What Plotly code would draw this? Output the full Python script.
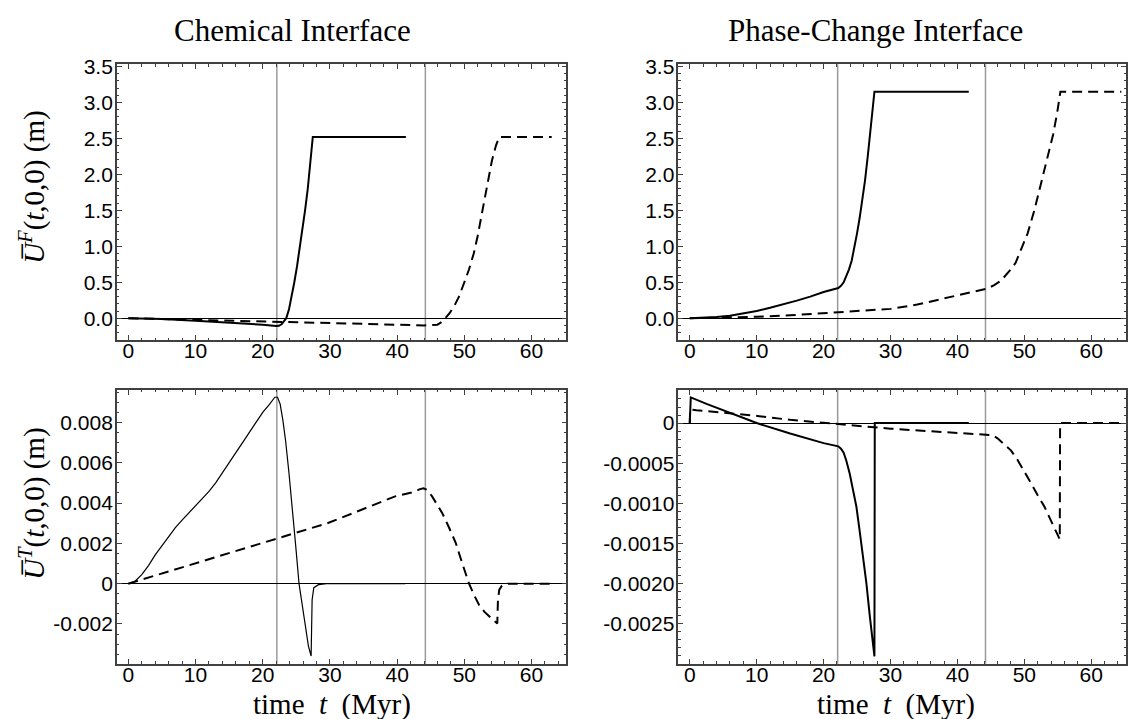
import plotly.graph_objects as go

# ---------------- data ----------------
x_ticks = [0, 10, 20, 30, 40, 50, 60]
vlines_t = [22.1, 44.2]

# Chemical interface, U^F
chemF_solid_t = [0, 5, 10, 15, 20, 22.0, 22.4, 22.8, 23.2, 23.5, 23.9, 24.3, 24.7, 25.1, 25.5, 25.9,
                 26.3, 26.7, 27.1, 27.45, 41.3]
chemF_solid_y = [0, -0.012, -0.035, -0.06, -0.09, -0.108, -0.105, -0.085, -0.04, 0.0, 0.12, 0.3, 0.5,
                 0.72, 0.96, 1.22, 1.5, 1.8, 2.15, 2.52, 2.52]
chemF_dash_t = [0, 10, 22, 30, 40, 44, 45, 46, 46.7, 47.2, 47.8, 48.5, 49.2, 50.0, 50.7, 51.4, 52.0,
                52.6, 53.3, 54.1, 54.7, 55.2, 63.0]
chemF_dash_y = [0, -0.02, -0.048, -0.065, -0.09, -0.1, -0.1, -0.09, -0.05, 0.0, 0.07, 0.17, 0.3, 0.5,
                0.68, 0.9, 1.15, 1.45, 1.8, 2.19, 2.4, 2.52, 2.52]

# Phase-change interface, U^F
phaseF_solid_t = [0, 2, 4, 6, 8, 10, 12, 14, 16, 18, 20, 22.2, 22.6, 23.0, 23.4, 23.8, 24.2, 24.6,
                  25.0, 25.4, 25.8, 26.2, 26.6, 27.0, 27.3, 27.6, 41.7]
phaseF_solid_y = [0, 0.004, 0.016, 0.036, 0.065, 0.1, 0.145, 0.19, 0.245, 0.3, 0.365, 0.42, 0.45, 0.5,
                  0.58, 0.68, 0.8, 0.98, 1.18, 1.4, 1.65, 1.92, 2.25, 2.6, 2.88, 3.15, 3.15]
phaseF_dash_t = [0, 5, 10, 15, 20, 22.2, 26, 30, 34, 38, 40, 42, 44.4, 45.5, 46.5, 47.3, 48.0, 48.7,
                 49.5, 50.5, 51.5, 52.5, 53.4, 54.3, 54.9, 55.4, 64.5]
phaseF_dash_y = [0, 0.006, 0.02, 0.04, 0.068, 0.08, 0.105, 0.13, 0.19, 0.27, 0.32, 0.36, 0.41, 0.46,
                 0.52, 0.6, 0.68, 0.77, 0.95, 1.18, 1.5, 1.86, 2.2, 2.55, 2.85, 3.15, 3.15]

# Chemical interface, U^T
chemT_solid_t = [0, 1, 2, 3, 4, 5, 6, 7, 8, 9, 10, 11, 12, 13, 14, 15, 16, 17, 18, 19, 20, 21, 21.8,
                 22.2, 22.6, 23.0, 23.4, 23.9, 24.4, 24.9, 25.4, 25.9, 26.4, 26.8, 27.2,
                 27.35, 27.6, 28.3, 29.5, 41.2]
chemT_solid_y = [0, 0.00012, 0.00045, 0.0009, 0.00143, 0.0019, 0.00237, 0.00278, 0.00315, 0.0035,
                 0.00385, 0.0042, 0.00458, 0.005, 0.00548, 0.006, 0.0065, 0.007, 0.0075, 0.008, 0.0085,
                 0.0089, 0.00925, 0.00925, 0.0089, 0.0081, 0.0071, 0.0055, 0.0038, 0.0019, 0.0,
                 -0.0012, -0.00236, -0.0031, -0.00359, -0.0008, -0.0002, -0.00005, 0.0, 0.0]
chemT_dash_t = [0, 10, 22, 25, 29.8, 34.8, 39.7, 42.5, 43.3, 43.9, 44.5, 45.2, 46.0, 46.7, 47.7, 48.7,
                49.7, 50.7, 51.5, 52.2, 53.0, 53.7, 54.3, 54.9, 55.0, 55.2, 55.6, 56.5, 63.4]
chemT_dash_y = [0, 0.001, 0.00223, 0.00253, 0.00302, 0.00367, 0.00433, 0.00455, 0.00468, 0.00473,
                0.00465, 0.00433, 0.0039, 0.00351, 0.0028, 0.00204, 0.001, 0.0, -0.0006, -0.00106,
                -0.0014, -0.00163, -0.0018, -0.00197, -0.0008, -0.0003, -0.0001, 0.0, 0.0]

# Phase-change interface, U^T
phaseT_solid_t = [0, 0.15, 2.5, 5, 7.5, 10, 15, 20, 22.2, 22.6, 23.0, 23.4, 23.9, 24.4, 24.9, 25.4,
                  25.9, 26.4, 26.9, 27.3, 27.6, 27.65, 41.7]
phaseT_solid_y = [0, 0.00032, 0.00024, 0.00016, 0.00008, 0.0, -0.00013, -0.00025, -0.00029, -0.00032,
                  -0.00037, -0.00047, -0.00063, -0.00083, -0.00104, -0.00135, -0.00166, -0.002,
                  -0.0024, -0.0027, -0.00291, 0.0, 0.0]
phaseT_dash_t = [0, 0.05, 1, 5.4, 10.4, 15, 20.4, 22.2, 25.4, 30, 35.5, 40, 44.5, 45.2, 46, 47, 48, 49,
                 50, 51, 52, 53, 54, 55.3, 55.35, 65]
phaseT_dash_y = [0, 0.00017, 0.00016, 0.000127, 0.000086, 0.00004, 0.0, -0.00001, -0.000037, -0.00007,
                 -0.0001, -0.00012, -0.00014, -0.00015, -0.00019, -0.00026, -0.00034, -0.00046, -0.0006,
                 -0.00075, -0.0009, -0.00104, -0.00122, -0.00145, 0.0, 0.0]

yF_ticks = [0, 0.5, 1.0, 1.5, 2.0, 2.5, 3.0, 3.5]
yF_labels = ["0.0", "0.5", "1.0", "1.5", "2.0", "2.5", "3.0", "3.5"]
yChemT_ticks = [-0.002, 0, 0.002, 0.004, 0.006, 0.008]
yChemT_labels = ["-0.002", "0", "0.002", "0.004", "0.006", "0.008"]
yPhaseT_ticks = [-0.0025, -0.002, -0.0015, -0.001, -0.0005, 0]
yPhaseT_labels = ["-0.0025", "-0.0020", "-0.0015", "-0.0010", "-0.0005", "0"]

col_titles = ["Chemical Interface", "Phase-Change Interface"]
yF_title = "<i>U\u0305</i><sup><i>F</i></sup>(<i>t</i>,0,0) (m)"
yT_title = "<i>U\u0305</i><sup><i>T</i></sup>(<i>t</i>,0,0) (m)"
x_title = "time  <i>t</i>  (Myr)"

# ---------------- figure ----------------
W, H = 1128, 719
fig = go.Figure()

panels = [
    ("x", "y", chemF_solid_t, chemF_solid_y, chemF_dash_t, chemF_dash_y, 2.0),
    ("x2", "y2", phaseF_solid_t, phaseF_solid_y, phaseF_dash_t, phaseF_dash_y, 2.0),
    ("x3", "y3", chemT_solid_t, chemT_solid_y, chemT_dash_t, chemT_dash_y, 1.2),
    ("x4", "y4", phaseT_solid_t, phaseT_solid_y, phaseT_dash_t, phaseT_dash_y, 2.0),
]
for xa, ya, st, sy, dt, dy, sw in panels:
    fig.add_trace(go.Scatter(x=dt, y=dy, mode="lines", xaxis=xa, yaxis=ya,
                             line=dict(color="black", width=2, dash="10px,6px"),
                             showlegend=False, hoverinfo="skip"))
    fig.add_trace(go.Scatter(x=st, y=sy, mode="lines", xaxis=xa, yaxis=ya,
                             line=dict(color="black", width=sw),
                             showlegend=False, hoverinfo="skip"))
    for v in vlines_t:
        fig.add_shape(type="line", xref=xa, yref=ya + " domain", x0=v, x1=v, y0=0, y1=1,
                      line=dict(color="#9a9a9a", width=1.5), layer="below")

AX = "#404040"
TICKFONT = dict(family="Liberation Sans, Arial, sans-serif", size=21, color="black")


def xaxis(domain, anchor):
    return dict(domain=domain, anchor=anchor, range=[-1.7, 65.2], tickmode="array",
                tickvals=x_ticks, ticktext=[str(v) for v in x_ticks],
                ticks="inside", ticklen=5, tickwidth=1, tickcolor=AX,
                mirror="allticks", showline=True, linecolor=AX, linewidth=1.6,
                showgrid=False, zeroline=False, tickfont=TICKFONT, ticklabelstandoff=-9,
                minor=dict(dtick=2, tick0=0, ticks="inside", ticklen=2.5, tickwidth=1,
                           tickcolor=AX, showgrid=False))


def yaxis(domain, anchor, rng, tv, tt, mdt):
    return dict(domain=domain, anchor=anchor, range=rng, tickmode="array",
                tickvals=tv, ticktext=tt,
                ticks="inside", ticklen=5, tickwidth=1, tickcolor=AX,
                mirror="allticks", showline=True, linecolor=AX, linewidth=1.6,
                showgrid=False, zeroline=True, zerolinecolor="black", zerolinewidth=1,
                tickfont=TICKFONT, ticklabelstandoff=-2,
                minor=dict(dtick=mdt, tick0=0, ticks="inside", ticklen=2.5, tickwidth=1,
                           tickcolor=AX, showgrid=False))


xl = [117 / W, 567 / W]
xr = [679 / W, 1127 / W]
yt = [1 - 335 / H, 1 - 56 / H]
yb = [1 - 663 / H, 1 - 386 / H]

fig.update_layout(
    width=W, height=H, autosize=False,
    margin=dict(l=0, r=0, t=0, b=0),
    paper_bgcolor="white", plot_bgcolor="white",
    xaxis=xaxis(xl, "y"), yaxis=yaxis(yt, "x", [-0.3, 3.53], yF_ticks, yF_labels, 0.1),
    xaxis2=xaxis(xr, "y2"), yaxis2=yaxis(yt, "x2", [-0.3, 3.53], yF_ticks, yF_labels, 0.1),
    xaxis3=xaxis(xl, "y3"), yaxis3=yaxis(yb, "x3", [-0.00397, 0.0096], yChemT_ticks, yChemT_labels, 0.0005),
    xaxis4=xaxis(xr, "y4"), yaxis4=yaxis(yb, "x4", [-0.0030, 0.00041], yPhaseT_ticks, yPhaseT_labels, 0.0001),
)

SERIF = "Liberation Serif, Times New Roman, serif"
ann = []
for txt, xc in zip(col_titles, [293, 876]):
    ann.append(dict(text=txt, x=xc / W, y=1 - 22 / H, xref="paper", yref="paper",
                    xanchor="center", yanchor="middle", showarrow=False,
                    font=dict(family=SERIF, size=31, color="black")))
for txt, yc in zip([yF_title, yT_title], [180, 501]):
    ann.append(dict(text=txt, x=33 / W, y=1 - yc / H, xref="paper", yref="paper",
                    xanchor="center", yanchor="middle", showarrow=False, textangle=-90,
                    font=dict(family=SERIF, size=29, color="black")))
for xc in [332, 897]:
    ann.append(dict(text=x_title, x=xc / W, y=1 - 704 / H, xref="paper", yref="paper",
                    xanchor="center", yanchor="middle", showarrow=False,
                    font=dict(family=SERIF, size=29, color="black")))
fig.update_layout(annotations=ann)

fig.write_html("out.html")
